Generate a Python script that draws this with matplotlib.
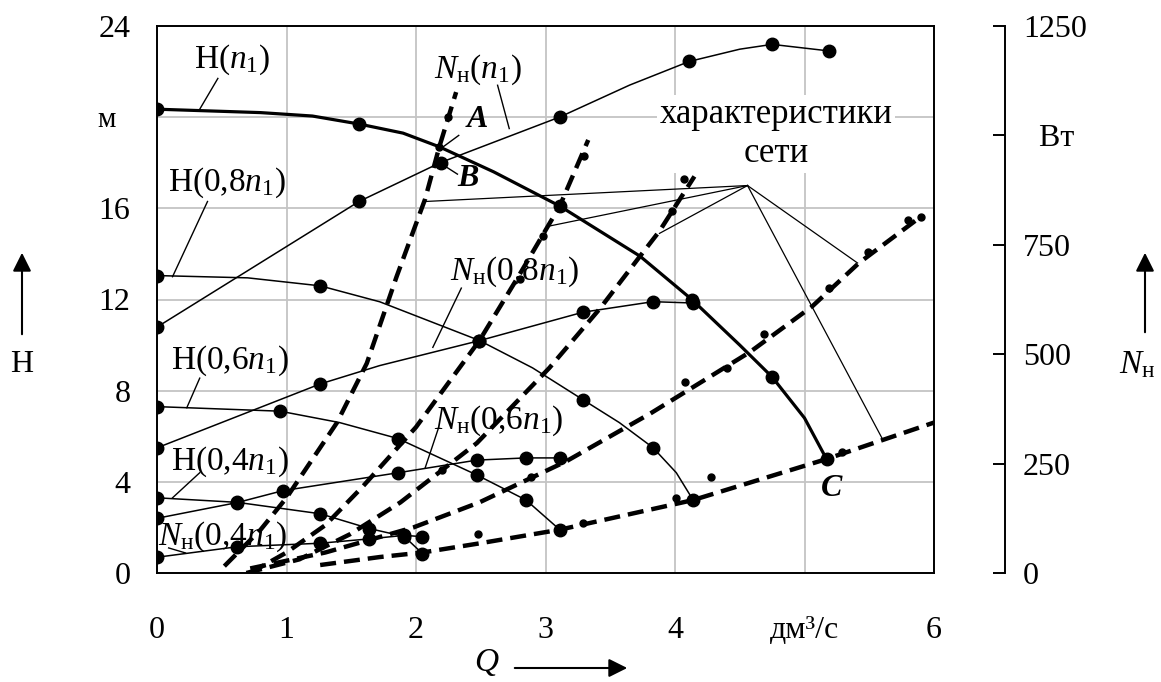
import numpy as np
import matplotlib
matplotlib.use("Agg")
import matplotlib.pyplot as plt

plt.rcParams['font.family'] = ['Liberation Serif', 'DejaVu Serif']
plt.rcParams['mathtext.fontset'] = 'custom'
plt.rcParams['mathtext.rm'] = 'Liberation Serif'
plt.rcParams['mathtext.it'] = 'Liberation Serif:italic'
plt.rcParams['mathtext.bf'] = 'Liberation Serif:bold'

# Pump head curves H(Q), m
q_h1 = [0, 0.8, 1.2, 1.56, 1.9, 2.18, 2.6, 3.11, 3.73, 4.13, 4.5, 4.75, 5.0, 5.17]
h_h1 = [20.35, 20.2, 20.05, 19.7, 19.3, 18.7, 17.6, 16.1, 13.9, 12.0, 10.0, 8.6, 6.8, 5.0]
dots_h1 = [0, 3, 7, 9, 11, 13]

q_h08 = [0, 0.7, 1.26, 1.72, 2.49, 2.9, 3.29, 3.57, 3.83, 4.01, 4.14]
h_h08 = [13.05, 12.95, 12.6, 11.9, 10.2, 9.0, 7.6, 6.6, 5.5, 4.4, 3.2]
dots_h08 = [0, 2, 4, 6, 8, 10]

q_h06 = [0, 0.95, 1.41, 1.86, 2.47, 2.85, 3.11]
h_h06 = [7.3, 7.1, 6.6, 5.9, 4.3, 3.2, 1.9]
dots_h06 = [0, 1, 3, 4, 5, 6]

q_h04 = [0, 0.62, 1.26, 1.64, 1.91, 2.05]
h_h04 = [3.3, 3.1, 2.6, 1.95, 1.6, 0.85]

# Pump power curves N(Q), W
q_n1 = [0, 1.56, 2.19, 3.11, 3.65, 4.11, 4.5, 4.75, 5.19]
n_n1 = [562, 849, 938, 1042, 1115, 1169, 1197, 1208, 1193]
dots_n1 = [0, 1, 2, 3, 5, 7, 8]

q_n08 = [0, 1.26, 1.72, 2.49, 3.29, 3.83, 4.14]
n_n08 = [286, 432, 474, 531, 596, 620, 617]
dots_n08 = [0, 1, 3, 4, 5, 6]

q_n06 = [0, 0.62, 0.97, 1.86, 2.47, 2.85, 3.11]
n_n06 = [125, 161, 188, 229, 258, 263, 263]

q_n04 = [0, 0.62, 1.26, 1.64, 1.91, 2.05]
n_n04 = [36, 60, 68, 78, 86, 83]

# System (network) characteristics, m
q_s1 = [0.52, 0.8, 1.0, 1.39, 1.62, 1.85, 2.07, 2.18, 2.31]
h_s1 = [0.3, 1.9, 3.3, 6.6, 9.2, 13.0, 16.4, 18.7, 21.1]
q_s2 = [0.72, 1.0, 1.3, 1.59, 2.0, 2.49, 2.8, 3.11, 3.33]
h_s2 = [0.0, 0.9, 2.1, 3.8, 6.4, 10.2, 13.1, 16.1, 19.0]
q_s3 = [0.69, 1.1, 1.49, 1.88, 2.47, 3.03, 3.42, 3.73, 3.88, 4.15]
h_s3 = [0.0, 0.6, 1.7, 3.1, 5.7, 9.0, 11.6, 13.9, 15.0, 17.4]
q_s4 = [0.72, 1.3, 1.98, 2.49, 3.16, 3.81, 4.58, 5.06, 5.42, 5.89]
h_s4 = [0.2, 0.9, 2.0, 3.1, 4.9, 7.0, 9.7, 11.7, 13.6, 15.6]
q_s5 = [1.26, 1.72, 2.05, 2.49, 3.11, 4.14, 5.17, 6.0]
h_s5 = [0.35, 0.7, 0.9, 1.3, 1.9, 3.2, 5.0, 6.6]

# Measured points along the system curves
q_meas = [2.18, 2.25, 2.8, 2.98, 3.3, 2.2, 2.48, 2.89, 3.29, 4.01, 4.08, 4.4,
          4.69, 5.19, 5.49, 5.8, 5.9, 4.07, 3.98, 4.28, 5.29]
h_meas = [18.7, 20.0, 12.9, 14.8, 18.3, 4.5, 1.7, 4.2, 2.2, 3.3, 8.4, 9.0,
          10.5, 12.5, 14.1, 15.5, 15.6, 17.3, 15.9, 4.2, 5.3]

x_ticklabels = ['0', '1', '2', '3', '4', 'дм³/с', '6']
y_ticklabels = ['0', '4', '8', '12', '16', 'м  ', '24']
n_ticklabels = ['0', '250', '500', '750', '  Вт', '1250']

fig = plt.figure(figsize=(11.61, 6.82), dpi=100)
W, H = 1161, 682
ax = fig.add_axes([157 / W, 1 - 573 / H, 777 / W, 547 / H])
ax.set_xlim(0, 6)
ax.set_ylim(0, 24)
ax2 = ax.twinx()
ax2.set_ylim(0, 1250)

# grid and frame
ax.set_xticks(range(7))
ax.set_yticks(range(0, 25, 4))
ax.grid(True, color='#c4c4c4', lw=1.3, zorder=0)
ax.set_axisbelow(True)
for s in ax.spines.values():
    s.set_linewidth(1.4)
ax.tick_params(length=0, labelsize=23)
ax.tick_params(axis='y', pad=19)
ax.tick_params(axis='x', pad=31)
ax.set_xticklabels(x_ticklabels)
ax.set_yticklabels(y_ticklabels)
for lbl in ax.get_yticklabels():
    if lbl.get_text().strip() == 'м':
        lbl.set_fontsize(21)

# separate power axis on the right
for side in ['left', 'top', 'bottom']:
    ax2.spines[side].set_visible(False)
ax2.spines['right'].set_position(('axes', 848 / 777))
ax2.spines['right'].set_linewidth(1.4)
ax2.set_yticks(range(0, 1251, 250))
ax2.set_yticklabels(n_ticklabels)
ax2.tick_params(axis='y', direction='in', length=9, width=1.4, pad=13, labelsize=23)

lw_thin = 1.1
mk = dict(marker='o', ms=9, mfc='black', mec='black')

# dashed system characteristics
dash = dict(color='black', lw=3.2, ls=(0, (3.6, 1.8)), zorder=3)
for q, h in [(q_s1, h_s1), (q_s2, h_s2), (q_s3, h_s3), (q_s4, h_s4), (q_s5, h_s5)]:
    ax.plot(q, h, **dash)
ax.plot(q_meas, h_meas, 'o', color='black', ms=5, zorder=4)

# head curves
ax.plot(q_h1, h_h1, color='black', lw=2.3, markevery=dots_h1, zorder=5, **mk)
ax.plot(q_h08, h_h08, color='black', lw=lw_thin, markevery=dots_h08, zorder=5, **mk)
ax.plot(q_h06, h_h06, color='black', lw=lw_thin, markevery=dots_h06, zorder=5, **mk)
ax.plot(q_h04, h_h04, color='black', lw=lw_thin, zorder=5, **mk)

# power curves
ax2.plot(q_n1, n_n1, color='black', lw=lw_thin, markevery=dots_n1, zorder=5, **mk)
ax2.plot(q_n08, n_n08, color='black', lw=lw_thin, markevery=dots_n08, zorder=5, **mk)
ax2.plot(q_n06, n_n06, color='black', lw=lw_thin, zorder=5, **mk)
ax2.plot(q_n04, n_n04, color='black', lw=lw_thin, zorder=5, **mk)

# curve labels with leader lines
fs = 24
labels = [
    (r'H($n_{\mathrm{1}}$)', (0.58, 22.5), [(0.47, 21.7), (0.33, 20.35)]),
    (r'H(0,8$n_{\mathrm{1}}$)', (0.54, 17.1), [(0.39, 16.3), (0.12, 13.0)]),
    (r'H(0,6$n_{\mathrm{1}}$)', (0.56, 9.3), [(0.33, 8.55), (0.23, 7.25)]),
    (r'H(0,4$n_{\mathrm{1}}$)', (0.56, 4.9), [(0.33, 4.4), (0.12, 3.3)]),
    (r'$N_{\mathrm{н}}$(0,4$n_{\mathrm{1}}$)', (0.51, 1.6), [(0.09, 1.1), (0.22, 0.88)]),
    (r'$N_{\mathrm{н}}$($n_{\mathrm{1}}$)', (2.48, 22.1), [(2.63, 21.4), (2.72, 19.5)]),
    (r'$N_{\mathrm{н}}$(0,8$n_{\mathrm{1}}$)', (2.76, 13.2), [(2.35, 12.5), (2.13, 9.9)]),
    (r'$N_{\mathrm{н}}$(0,6$n_{\mathrm{1}}$)', (2.64, 6.7), [(2.17, 6.3), (2.07, 4.6)]),
]
for txt, (x, y), leader in labels:
    ax.text(x, y, txt, fontsize=fs, ha='center', va='center', zorder=6)
    (x0, y0), (x1, y1) = leader
    ax.plot([x0, x1], [y0, y1], color='black', lw=1.0, zorder=6)

# operating points
pt = dict(fontsize=23, fontweight='bold', fontstyle='italic', ha='center', va='center', zorder=6)
ax.text(2.47, 19.9, 'A', **pt)
ax.plot([2.33, 2.21], [19.2, 18.7], color='black', lw=1.0)
ax.text(2.40, 17.3, 'B', **pt)
ax.plot([2.21, 2.32], [17.9, 17.5], color='black', lw=1.0)
ax.text(5.21, 3.7, 'C', **pt)

# network characteristics label
ax.text(4.78, 19.25, 'характеристики\nсети', fontsize=25, ha='center', va='center',
        linespacing=1.25, zorder=6,
        bbox=dict(facecolor='white', edgecolor='none', pad=2))
hub = (4.56, 17.0)
for xe, ye in [(2.07, 16.3), (3.01, 15.2), (3.88, 14.9), (5.41, 13.6), (5.6, 5.9)]:
    ax.plot([hub[0], xe], [hub[1], ye], color='black', lw=0.9, zorder=6)

# axis names with arrows
arrow = dict(arrowstyle='-|>', color='black', lw=1.5, mutation_scale=28)
fig.text(22 / W, 1 - 365 / H, 'H', fontsize=23, ha='center', va='center')
ax.annotate('', xy=(22 / W, 1 - 250 / H), xytext=(22 / W, 1 - 337 / H),
            xycoords='figure fraction', textcoords='figure fraction', arrowprops=arrow)
fig.text(1137 / W, 1 - 365 / H, r'$N_{\mathrm{н}}$', fontsize=24, ha='center', va='center')
ax.annotate('', xy=(1145 / W, 1 - 250 / H), xytext=(1145 / W, 1 - 335 / H),
            xycoords='figure fraction', textcoords='figure fraction', arrowprops=arrow)
fig.text(487 / W, 1 - 662 / H, r'$Q$', fontsize=24, ha='center', va='center')
ax.annotate('', xy=(630 / W, 1 - 668 / H), xytext=(512 / W, 1 - 668 / H),
            xycoords='figure fraction', textcoords='figure fraction', arrowprops=arrow)

fig.savefig('out.png', dpi=100)
